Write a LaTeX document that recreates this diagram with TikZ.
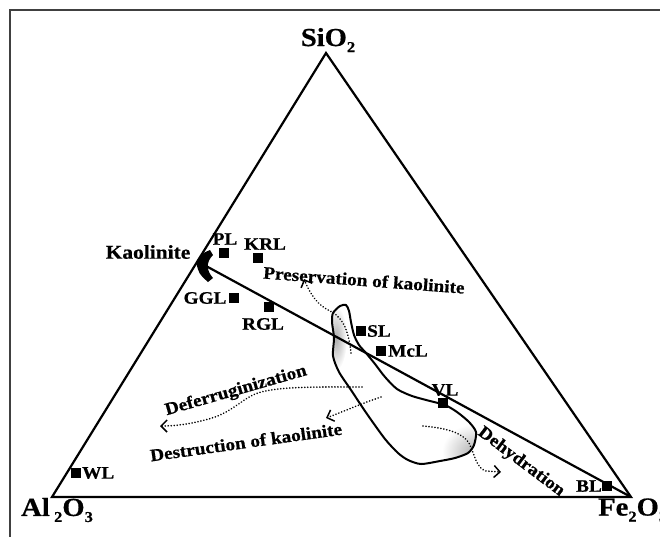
\documentclass[tikz,border=0pt]{standalone}
\usepackage{fontspec}
\setmainfont{Liberation Serif}[FakeStretch=1.1,BoldFeatures={FakeBold=0.6}]
\usetikzlibrary{arrows.meta}
\newcommand{\sbs}[1]{\raisebox{-0.5ex}{\fontsize{15}{15}\selectfont #1}}
\begin{document}
\begin{tikzpicture}[x=1pt,y=-1pt,
  frame/.style={draw=black!75,line width=2pt},
  edge/.style={draw=black,line width=2.2pt},
  pt/.style={rectangle,fill=black,minimum size=10.5pt,inner sep=0pt},
  lab/.style={font=\fontsize{17.5}{17.5}\selectfont\bfseries,inner sep=0pt},
  biglab/.style={font=\fontsize{26}{26}\selectfont\bfseries,inner sep=0pt},
  dots/.style={line width=1.8pt,dash pattern=on 0.01pt off 3pt,line cap=round},
  tip/.style={-{Straight Barb[length=6pt,width=12pt,line width=1.5pt]}}
]
\useasboundingbox (0,0) rectangle (660,536);
\draw[frame] (10,10) rectangle (672,548);

% corners
\coordinate (S) at (326,53);
\coordinate (A) at (52,497);
\coordinate (F) at (631,497);
\coordinate (Ke) at (206,266);

% blob
\def\blob{plot[smooth cycle,tension=0.45] coordinates {(340,306) (346,305) (349,311) (351,322) (354,335) (359,345) (366,353) (375,364) (385,377) (397,389) (412,396) (430,401) (445,405) (457,412) (469,422) (476,432) (474,445) (468,453) (455,458) (440,461) (421,464) (408,460) (398,453) (385,439) (367,414) (351,390) (339,372) (333,356) (334,338) (332,322) (333,313)}}
\begin{scope}
\clip \blob;
\shade[inner color=gray!65,outer color=white] (336,338) ellipse (11 and 32);
\shade[inner color=gray!60,outer color=white] (474,452) ellipse (32 and 28);
\end{scope}
\draw[edge,line width=2pt] \blob;

% triangle
\draw[edge,line join=miter] (A) -- (S) -- (F) -- cycle;
% tie line
\draw[edge] (F) -- (Ke);
\fill (196,262) .. controls (201,254) .. (210,250) -- (213,255) .. controls (206,262) and (206,270) .. (213,278) -- (208,282) .. controls (199,274) .. (196,262) -- cycle;

% samples
\node[pt] (PL) at (224,253) {};
\node[pt] (KRL) at (258,258) {};
\node[pt] (GGL) at (234,298) {};
\node[pt] (RGL) at (269,307) {};
\node[pt] (SL) at (361,331) {};
\node[pt] (McL) at (381,351) {};
\node[pt] (VL) at (443,403) {};
\node[pt] (WL) at (76,473) {};
\node[pt] (BL) at (607,486) {};

\node[lab] (PLl) at (225,239) {PL};
\node[lab] (KRLl) at (265,244) {KRL};
\node[lab] (GGLl) at (205,298) {GGL};
\node[lab] (RGLl) at (263,324) {RGL};
\node[lab,anchor=west] (SLl) at (367,331) {SL};
\node[lab,anchor=west] (McLl) at (388,351) {McL};
\node[lab] (VLl) at (445,390) {VL};
\node[lab,anchor=west] (WLl) at (82,473) {WL};
\node[lab,anchor=east] (BLl) at (602,486) {BL};
\node[lab,font=\fontsize{19.5}{19.5}\selectfont\bfseries] (Kl) at (148,252) {Kaolinite};

% process arrows
\draw[dots,tip] (351,353) .. controls (349,335) and (345,318) .. (330,311) .. controls (318,305) and (311,296) .. (304,279);
\node[lab,rotate=-4.3] (pres) at (364,280) {Preservation of kaolinite};

\draw[dots,tip] (362,387) .. controls (320,387) and (275,386) .. (255,394) .. controls (238,402) and (230,414) .. (205,420) .. controls (190,424) and (175,426) .. (160,426);
\node[lab,rotate=16] (defer) at (236,391) {Deferruginization};

\draw[dots,tip] (381,397) .. controls (360,404) and (345,411) .. (326,418);
\node[lab,rotate=8] (destr) at (246,442) {Destruction of kaolinite};

\draw[dots,tip] (423,426) .. controls (445,428) and (462,432) .. (469,443) .. controls (475,455) and (476,468) .. (486,471) -- (501,472);
\node[lab,rotate=-37] (dehyd) at (521,462) {Dehydration};

% oxide labels
\node[biglab] (SiO) at (328,40) {SiO\sbs{2}};
\node[biglab,anchor=west] (AlO) at (21,510) {Al\,\sbs{2}O\sbs{3}};
\node[biglab,anchor=west] (FeO) at (598,510) {Fe\sbs{2}O\sbs{3}};
\end{tikzpicture}
\end{document}
